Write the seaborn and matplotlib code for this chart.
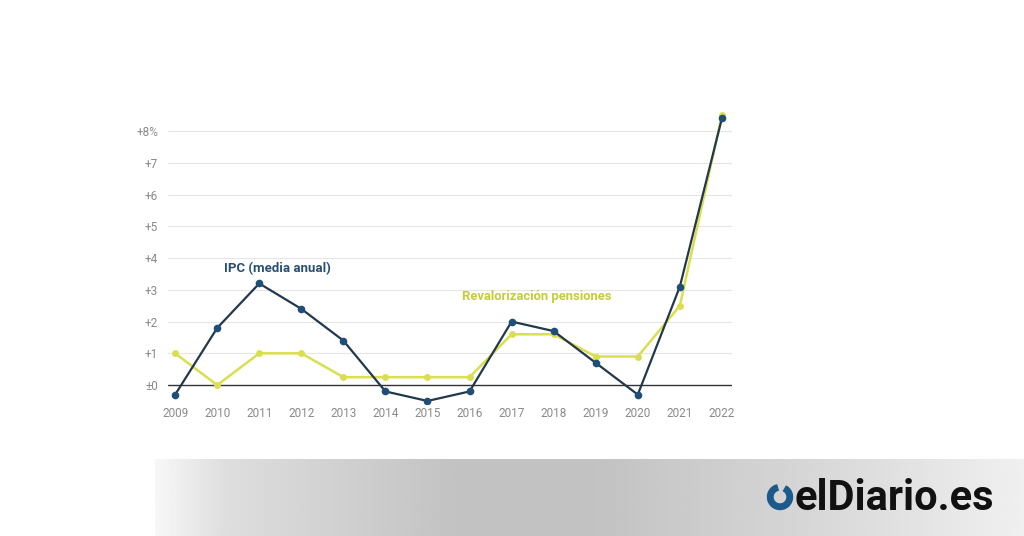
import numpy as np
import pandas as pd
import matplotlib.pyplot as plt
import seaborn as sns
from matplotlib.patches import Wedge

# data
years = list(range(2009, 2023))
ipc = [-0.3, 1.8, 3.2, 2.4, 1.4, -0.2, -0.5, -0.2, 2.0, 1.7, 0.7, -0.3, 3.1, 8.4]
pensiones = [1.0, 0.0, 1.0, 1.0, 0.25, 0.25, 0.25, 0.25, 1.6, 1.6, 0.9, 0.9, 2.5, 8.5]
ytick_vals = [0, 1, 2, 3, 4, 5, 6, 7, 8]
ytick_labels = ["±0", "+1", "+2", "+3", "+4", "+5", "+6", "+7", "+8%"]

df = pd.DataFrame({
    "year": years * 2,
    "value": ipc + pensiones,
    "serie": ["IPC"] * len(years) + ["Pensiones"] * len(years),
})

sns.set_style("white")
plt.rcParams["font.family"] = ["Roboto", "DejaVu Sans"]

fig = plt.figure(figsize=(10.24, 5.36), dpi=100)
fig.patch.set_facecolor("white")

# grey gradient band at the bottom
band = fig.add_axes([155 / 1024, 0, 1 - 155 / 1024, 77 / 536])
xs = np.linspace(0, 1, 400)
shade = np.interp(xs, [0, 0.08, 0.35, 0.5, 0.75, 1.0], [0.97, 0.87, 0.76, 0.76, 0.84, 0.94])
band.imshow(np.tile(shade, (20, 1)), cmap="gray", vmin=0, vmax=1, aspect="auto",
            extent=[0, 1, 0, 1])
band.set_axis_off()

# logo
logo = fig.add_axes([0, 0, 1, 1], zorder=5)
logo.set_xlim(0, 1024)
logo.set_ylim(536, 0)
logo.set_axis_off()
logo.add_patch(Wedge((780, 497), 12.5, 300, 255, width=5.5, color="#1d5a8c"))
logo.text(795, 498, "elDiario.es", fontsize=30, fontweight="bold", color="#111111",
          va="center", ha="left", family=["Roboto", "DejaVu Sans"])

# main chart
ax = fig.add_axes([168 / 1024, 0.246, 564 / 1024, 0.551])
sns.lineplot(data=df[df.serie == "Pensiones"], x="year", y="value", ax=ax,
             color="#d9df4e", linewidth=1.8, marker="o", markersize=5,
             markeredgewidth=0, zorder=3)
sns.lineplot(data=df[df.serie == "IPC"], x="year", y="value", ax=ax,
             color="#22384d", linewidth=1.6, marker="o", markersize=5.5,
             markerfacecolor="#1f4f78", markeredgewidth=0, zorder=4)

ax.set_xlim(2008.83, 2022.24)
ax.set_ylim(-0.6, 8.7)
ax.set_yticks(ytick_vals)
ax.set_yticklabels(ytick_labels)
ax.set_xticks(years)
ax.set_xticklabels([str(y) for y in years])
ax.tick_params(axis="both", length=0, labelsize=8.5, labelcolor="#8a8a8a")
ax.tick_params(axis="y", pad=7)
ax.tick_params(axis="x", pad=2)
ax.set_xlabel("")
ax.set_ylabel("")
for s in ax.spines.values():
    s.set_visible(False)
for v in ytick_vals[1:]:
    ax.axhline(v, color="#e6e6e6", linewidth=0.8, zorder=1)
ax.axhline(0, color="#333333", linewidth=1.0, zorder=2)
ax.set_facecolor("none")

ax.text(2010.15, 3.68, "IPC (media anual)", fontsize=9.5, fontweight="bold",
        color="#2b4f70", va="center", ha="left")
ax.text(2015.82, 2.8, "Revalorización pensiones", fontsize=9.4, fontweight="bold",
        color="#c5cc3c", va="center", ha="left")

fig.savefig("out.png", dpi=100)
